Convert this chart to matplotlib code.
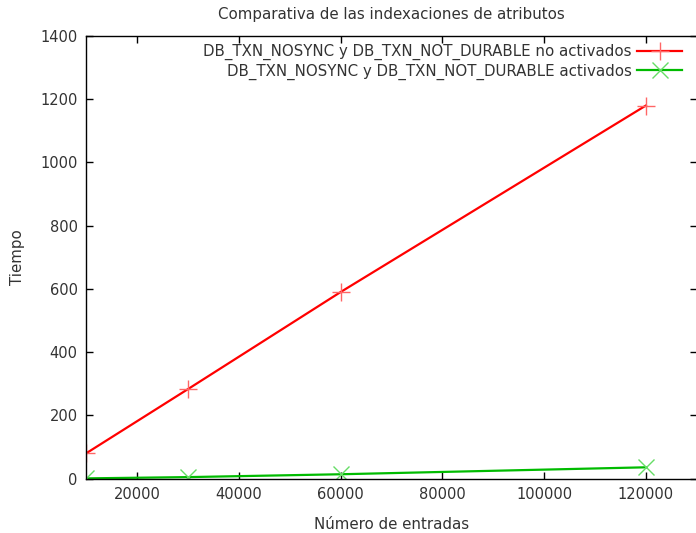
import matplotlib.pyplot as plt
import numpy as np

# data
entradas = [10000, 30000, 60000, 120000]
no_activados = [80, 283, 590, 1180]
activados = [1, 5, 14, 36]

x_ticks = [20000, 40000, 60000, 80000, 100000, 120000]
y_ticks = [0, 200, 400, 600, 800, 1000, 1200, 1400]

plt.rcParams['font.family'] = ['DejaVu Sans']
txt = '#333333'

fig = plt.figure(figsize=(6.96, 5.33), dpi=100)
ax = fig.add_axes([0.1236, 0.1019, 0.8775, 0.8306])

ax.plot(entradas, no_activados, color='#ff0000', linewidth=1.6,
        marker='+', markersize=13, markeredgewidth=1.0, markeredgecolor='#ff6666',
        label='DB_TXN_NOSYNC y DB_TXN_NOT_DURABLE no activados')
ax.plot(entradas, activados, color='#00bb00', linewidth=1.6,
        marker='x', markersize=12, markeredgewidth=1.0, markeredgecolor='#66dd66',
        label='DB_TXN_NOSYNC y DB_TXN_NOT_DURABLE activados')

ax.set_xlim(10000, 130000)
ax.set_ylim(0, 1400)
ax.set_xticks(x_ticks)
ax.set_yticks(y_ticks)
ax.tick_params(direction='in', top=True, right=True, length=5, width=1,
               labelsize=10.5, labelcolor=txt, pad=6)
for s in ax.spines.values():
    s.set_linewidth(1)

ax.set_title('Comparativa de las indexaciones de atributos', fontsize=10.8, color=txt, pad=12)
ax.set_xlabel('Número de entradas', fontsize=10.8, color=txt, labelpad=11)
ax.set_ylabel('Tiempo', fontsize=10.8, color=txt, labelpad=11)

ax.legend(loc='upper right', frameon=False, markerfirst=False, fontsize=10.8,
          handlelength=3.0, handletextpad=0.4, borderaxespad=0.15, labelspacing=0.2,
          labelcolor=txt, bbox_to_anchor=(0.99, 1.0))

fig.savefig('out.png', dpi=100)
